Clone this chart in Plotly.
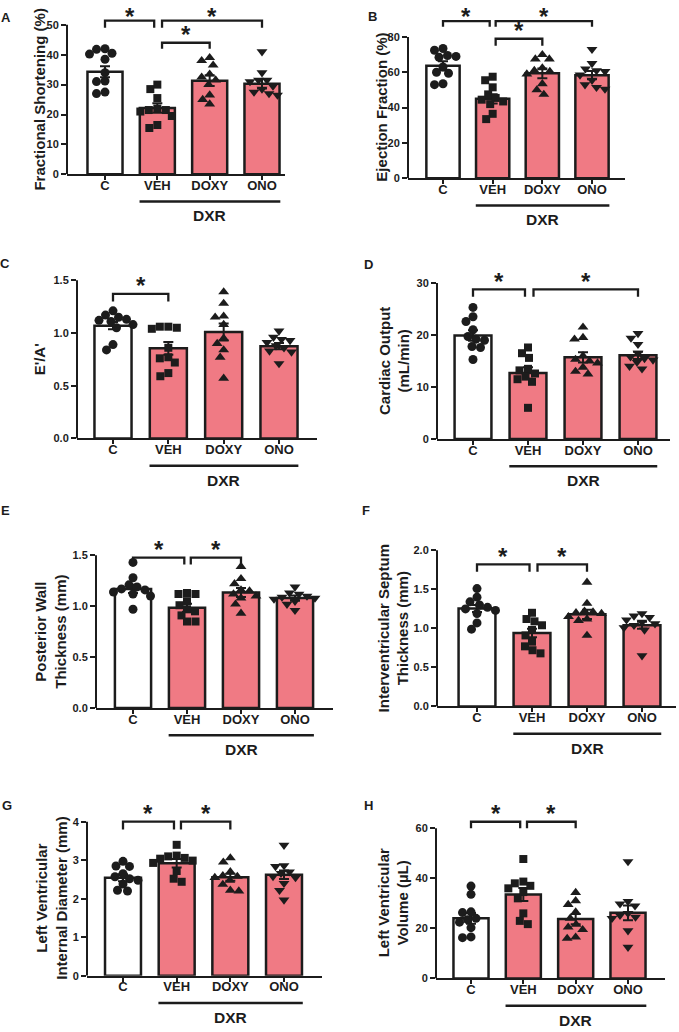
import plotly.graph_objects as go

W, H = 679, 1032
categories = ["C", "VEH", "DOXY", "ONO"]
PINK = "#F07A84"
INK = "#1c1c1c"
FONT = "Liberation Sans, Arial, sans-serif"

# ---------------- data ----------------
# A  Fractional Shortening (%)
fs_C = [42.0, 41.8, 40.5, 40.2, 38.5, 34.0, 31.2, 31.0, 27.5, 27.0]
fs_VEH = [30.0, 28.5, 25.5, 22.0, 21.5, 21.0, 21.5, 19.5, 16.5, 15.5]
fs_DOXY = [39.0, 38.0, 36.5, 33.5, 32.5, 31.5, 30.0, 26.5, 25.0, 23.5]
fs_ONO = [41.0, 34.0, 31.5, 31.5, 31.0, 29.5, 28.5, 27.5, 27.0, 26.5]
fs_mean = [34.3, 22.2, 31.3, 30.3]
fs_sem = [1.8, 1.6, 1.8, 1.6]
fs_ticks = [0, 10, 20, 30, 40, 50]

# B  Ejection Fraction (%)
ef_C = [73.5, 72.5, 69.5, 69.0, 68.5, 63.0, 60.0, 59.5, 53.5, 53.0]
ef_VEH = [57.5, 55.5, 51.5, 47.5, 45.5, 44.5, 43.5, 42.0, 36.5, 33.5]
ef_DOXY = [70.0, 67.5, 67.5, 62.5, 61.0, 60.5, 59.0, 53.5, 50.0, 47.5]
ef_ONO = [73.0, 65.0, 62.0, 61.0, 60.5, 58.5, 55.5, 53.0, 51.5, 50.5]
ef_mean = [63.7, 45.0, 59.4, 58.4]
ef_sem = [2.6, 2.6, 2.7, 2.3]
ef_ticks = [0, 20, 40, 60, 80]

# C  E'/A'
ea_C = [1.21, 1.17, 1.15, 1.13, 1.12, 1.11, 1.08, 1.05, 0.89, 0.84]
ea_VEH = [1.06, 1.06, 1.05, 1.04, 0.86, 0.77, 0.76, 0.72, 0.62, 0.59]
ea_DOXY = [1.39, 1.28, 1.16, 1.15, 1.08, 0.95, 0.90, 0.84, 0.77, 0.57]
ea_ONO = [1.02, 0.96, 0.94, 0.93, 0.91, 0.88, 0.86, 0.83, 0.82, 0.71]
ea_mean = [1.07, 0.855, 1.01, 0.875]
ea_sem = [0.035, 0.06, 0.08, 0.03]
ea_ticks = [0.0, 0.5, 1.0, 1.5]

# D  Cardiac Output (mL/min)
co_C = [25.3, 23.5, 22.6, 21.0, 19.7, 19.2, 19.0, 17.8, 17.6, 15.3]
co_VEH = [17.6, 16.5, 15.6, 13.5, 13.2, 12.6, 12.0, 11.5, 11.0, 6.0]
co_DOXY = [21.5, 19.5, 19.2, 16.0, 15.3, 15.0, 14.6, 13.8, 13.0, 12.5]
co_ONO = [20.3, 19.4, 18.2, 16.5, 15.8, 15.5, 15.2, 14.8, 14.0, 13.5]
co_mean = [19.9, 12.7, 15.7, 16.1]
co_sem = [1.0, 1.1, 1.0, 0.7]
co_ticks = [0, 10, 20, 30]

# E  Posterior Wall Thickness (mm)
pw_C = [1.43, 1.28, 1.21, 1.19, 1.17, 1.16, 1.14, 1.12, 1.10, 0.97]
pw_VEH = [1.13, 1.12, 1.12, 1.05, 1.01, 0.97, 0.95, 0.91, 0.85, 0.85]
pw_DOXY = [1.39, 1.27, 1.22, 1.16, 1.15, 1.12, 1.10, 1.08, 1.02, 0.93]
pw_ONO = [1.19, 1.13, 1.12, 1.10, 1.09, 1.08, 1.07, 1.05, 1.02, 0.96]
pw_mean = [1.17, 0.985, 1.135, 1.08]
pw_sem = [0.04, 0.04, 0.045, 0.025]
pw_ticks = [0.0, 0.5, 1.0, 1.5]

# F  Interventricular Septum Thickness (mm)
ivs_C = [1.51, 1.40, 1.34, 1.30, 1.27, 1.25, 1.23, 1.19, 1.07, 0.99]
ivs_VEH = [1.20, 1.12, 1.09, 1.04, 0.98, 0.91, 0.83, 0.77, 0.72, 0.68]
ivs_DOXY = [1.59, 1.32, 1.22, 1.20, 1.21, 1.19, 1.15, 1.12, 1.10, 0.91]
ivs_ONO = [1.19, 1.16, 1.14, 1.11, 1.08, 1.06, 1.04, 1.01, 0.98, 0.65]
ivs_mean = [1.255, 0.94, 1.18, 1.04]
ivs_sem = [0.045, 0.055, 0.06, 0.045]
ivs_ticks = [0.0, 0.5, 1.0, 1.5, 2.0]

# G  Left Ventricular Internal Diameter (mm)
lvid_C = [2.97, 2.85, 2.84, 2.65, 2.57, 2.52, 2.48, 2.38, 2.22, 2.20]
lvid_VEH = [3.40, 3.12, 3.10, 3.06, 3.04, 2.99, 2.93, 2.72, 2.52, 2.44]
lvid_DOXY = [3.06, 2.95, 2.70, 2.60, 2.58, 2.55, 2.48, 2.37, 2.22, 2.20]
lvid_ONO = [3.39, 2.86, 2.84, 2.70, 2.66, 2.58, 2.55, 2.40, 2.22, 1.97]
lvid_mean = [2.545, 2.92, 2.56, 2.62]
lvid_sem = [0.09, 0.11, 0.09, 0.11]
lvid_ticks = [0, 1, 2, 3, 4]

# H  Left Ventricular Volume (µL)
lvv_C = [36.9, 33.6, 26.6, 26.3, 24.0, 22.5, 23.5, 20.3, 16.6, 16.3]
lvv_VEH = [47.7, 38.7, 38.0, 37.0, 36.0, 34.5, 32.0, 26.0, 23.0, 21.7]
lvv_DOXY = [34.3, 31.0, 29.5, 26.5, 24.0, 21.6, 20.5, 19.5, 16.5, 16.0]
lvv_ONO = [46.7, 30.8, 29.8, 29.0, 26.0, 25.2, 24.5, 24.0, 19.1, 12.5]
lvv_mean = [24.0, 33.5, 23.7, 26.2]
lvv_sem = [2.1, 2.6, 2.0, 2.9]
lvv_ticks = [0, 20, 40, 60]

# significance brackets: (from, to, top, foot)
fs_sig = [(0, 0.94, 51.4, 49.0), (1.09, 3, 51.4, 49.0), (1.09, 2, 44.0, 42.0)]
ef_sig = [(0, 0.94, 89.0, 85.8), (1.06, 3, 89.0, 85.8), (1.06, 2, 79.0, 75.1)]
ea_sig = [(0, 1.0, 1.372, 1.30)]
co_sig = [(0, 0.945, 28.75, 27.35), (1.1, 3, 28.75, 27.35)]
pw_sig = [(0, 0.95, 1.477, 1.41), (1.07, 2, 1.477, 1.41)]
ivs_sig = [(0, 0.955, 1.82, 1.726), (1.1, 2, 1.82, 1.726)]
lvid_sig = [(0, 0.95, 4.0, 3.8), (1.08, 2, 4.0, 3.8)]
lvv_sig = [(0, 0.94, 62.6, 60.0), (1.07, 2, 62.6, 60.0)]

panels = [
    dict(letter="A", title="Fractional Shortening (%)", groups=[fs_C, fs_VEH, fs_DOXY, fs_ONO],
         mean=fs_mean, sem=fs_sem, ticks=fs_ticks, fmt="{:.0f}", sig=fs_sig,
         geo=dict(yax=67, xend=285, c=105, ono=262, p0=172, pM=21, tx=40, lx=6, ly=14)),
    dict(letter="B", title="Ejection Fraction (%)", groups=[ef_C, ef_VEH, ef_DOXY, ef_ONO],
         mean=ef_mean, sem=ef_sem, ticks=ef_ticks, fmt="{:.0f}", sig=ef_sig,
         geo=dict(yax=408, xend=625, c=443, ono=592, p0=176, pM=33.3, tx=382, lx=372, ly=13)),
    dict(letter="C", title="E'/A'", groups=[ea_C, ea_VEH, ea_DOXY, ea_ONO],
         mean=ea_mean, sem=ea_sem, ticks=ea_ticks, fmt="{:.1f}", sig=ea_sig,
         geo=dict(yax=77, xend=317, c=113, ono=279, p0=438.7, pM=279, tx=39, lx=5, ly=262)),
    dict(letter="D", title="Cardiac Output<br>(mL/min)", groups=[co_C, co_VEH, co_DOXY, co_ONO],
         mean=co_mean, sem=co_sem, ticks=co_ticks, fmt="{:.0f}", sig=co_sig,
         geo=dict(yax=437, xend=670, c=473, ono=638, p0=439.3, pM=281.7, tx=394, lx=368, ly=263)),
    dict(letter="E", title="Posterior Wall<br>Thickness (mm)", groups=[pw_C, pw_VEH, pw_DOXY, pw_ONO],
         mean=pw_mean, sem=pw_sem, ticks=pw_ticks, fmt="{:.1f}", sig=pw_sig,
         geo=dict(yax=96, xend=333, c=133, ono=295, p0=711, pM=556.7, tx=51, lx=5, ly=511)),
    dict(letter="F", title="Interventricular Septum<br>Thickness (mm)",
         groups=[ivs_C, ivs_VEH, ivs_DOXY, ivs_ONO],
         mean=ivs_mean, sem=ivs_sem, ticks=ivs_ticks, fmt="{:.1f}", sig=ivs_sig,
         geo=dict(yax=437, xend=676, c=477, ono=642, p0=709.3, pM=551.7, tx=393, lx=366, ly=511)),
    dict(letter="G", title="Left Ventricular<br>Internal Diameter (mm)",
         groups=[lvid_C, lvid_VEH, lvid_DOXY, lvid_ONO],
         mean=lvid_mean, sem=lvid_sem, ticks=lvid_ticks, fmt="{:.0f}", sig=lvid_sig,
         geo=dict(yax=87, xend=322, c=123, ono=284, p0=981.3, pM=825.7, tx=52, lx=7, ly=809)),
    dict(letter="H", title="Left Ventricular<br>Volume (µL)", groups=[lvv_C, lvv_VEH, lvv_DOXY, lvv_ONO],
         mean=lvv_mean, sem=lvv_sem, ticks=lvv_ticks, fmt="{:.0f}", sig=lvv_sig,
         geo=dict(yax=436, xend=665, c=471, ono=628, p0=984, pM=832.3, tx=393, lx=368, ly=809)),
]

symbols = ["circle", "square", "triangle-up", "triangle-down"]
msizes = [9, 8, 9.5, 9.5]
bar_colors = ["white", PINK, PINK, PINK]


def swarm(vals, k, s, d=8.2):
    """simple beeswarm: horizontal offsets (in category units) so markers don't overlap"""
    placed = []
    offs = [0.0] * len(vals)
    order = sorted(range(len(vals)), key=lambda i: -vals[i])
    for i in order:
        y = vals[i] * k
        chosen = 0.0
        found = False
        for step in range(0, 80):
            for sgn in ((1,) if step == 0 else (-1, 1)):
                cand = sgn * step * 0.5
                if all((cand - px) ** 2 + (y - py) ** 2 >= d * d for px, py in placed):
                    chosen = cand
                    found = True
                    break
            if found:
                break
        placed.append((chosen, y))
        offs[i] = chosen / s
    return offs


def yp(p):
    return 1 - p / H


fig = go.Figure()
shapes = []
annotations = []
layout_axes = {}

for n, P in enumerate(panels, start=1):
    g = P["geo"]
    xs = "" if n == 1 else str(n)
    xa, ya = "x" + xs, "y" + xs
    M = P["ticks"][-1]
    k = (g["p0"] - g["pM"]) / M           # px per data unit
    s = (g["ono"] - g["c"]) / 3.0          # px per category
    top = max([b[2] for b in P["sig"]] + [M]) + 2.5 / k
    top_px = g["p0"] - top * k

    layout_axes["xaxis" + xs] = dict(
        domain=[g["yax"] / W, g["xend"] / W],
        range=[-(g["c"] - g["yax"]) / s, 3 + (g["xend"] - g["ono"]) / s],
        anchor=ya, tickvals=[0, 1, 2, 3], ticktext=categories,
        showline=True, linecolor=INK, linewidth=2, ticks="outside", ticklen=4,
        tickwidth=1.8, tickcolor=INK, showgrid=False, zeroline=False,
        ticklabelstandoff=-6,
        tickfont=dict(family=FONT, size=13, color=INK, weight="bold"), fixedrange=True)
    layout_axes["yaxis" + xs] = dict(
        domain=[yp(g["p0"]), yp(top_px)], range=[0, top], anchor=xa,
        tickvals=P["ticks"], ticktext=[P["fmt"].format(t) for t in P["ticks"]],
        showline=False, ticks="outside", ticklen=5, tickwidth=1.8, tickcolor=INK,
        showgrid=False, zeroline=False,
        tickfont=dict(family=FONT, size=11, color=INK, weight="bold"), fixedrange=True)

    fig.add_trace(go.Bar(
        x=[0, 1, 2, 3], y=P["mean"], width=0.67, xaxis=xa, yaxis=ya,
        marker=dict(color=bar_colors, line=dict(color=INK, width=2.5)),
        error_y=dict(type="data", array=P["sem"], color=INK, thickness=2, width=5),
        showlegend=False, hoverinfo="skip"))

    for gi, vals in enumerate(P["groups"]):
        offs = swarm(vals, k, s)
        fig.add_trace(go.Scatter(
            x=[gi + o for o in offs], y=vals, mode="markers", xaxis=xa, yaxis=ya,
            marker=dict(symbol=symbols[gi], size=msizes[gi], color=INK, line=dict(width=0)),
            cliponaxis=False, showlegend=False, hoverinfo="skip"))

    # y axis line (from 0 to the last tick)
    shapes.append(dict(type="line", xref=xa + " domain", yref=ya, x0=0, x1=0, y0=0, y1=M,
                       line=dict(color=INK, width=2)))
    # significance brackets
    for (a, b, t, f) in P["sig"]:
        shapes.append(dict(type="path", xref=xa, yref=ya,
                           path=f"M {a},{f} L {a},{t} L {b},{t} L {b},{f}",
                           line=dict(color=INK, width=2.3)))
        room = g["p0"] - t * k            # distance of the bracket from the page top
        annotations.append(dict(x=(a + b) / 2, y=t, xref=xa, yref=ya, text="*",
                                showarrow=False, yanchor="middle",
                                yshift=min(8, room - 12.5),
                                font=dict(family=FONT, size=24, color=INK, weight="bold")))
    # DXR group line + label
    shapes.append(dict(type="line", xref=xa, yref="paper", x0=0.66, x1=3.35,
                       y0=yp(g["p0"] + 27.5), y1=yp(g["p0"] + 27.5),
                       line=dict(color=INK, width=2.5)))
    annotations.append(dict(x=2, y=yp(g["p0"] + 42), xref=xa, yref="paper", text="DXR",
                            showarrow=False, xanchor="center", yanchor="middle",
                            font=dict(family=FONT, size=15.5, color=INK, weight="bold")))
    # y title
    annotations.append(dict(x=g["tx"] / W, y=yp((g["p0"] + g["pM"]) / 2), xref="paper",
                            yref="paper", text=P["title"], textangle=-90, showarrow=False,
                            xanchor="center", yanchor="middle", align="center",
                            font=dict(family=FONT, size=15, color=INK, weight="bold")))
    # panel letter
    annotations.append(dict(x=g["lx"] / W, y=yp(g["ly"]), xref="paper", yref="paper",
                            text=P["letter"], showarrow=False, xanchor="center",
                            yanchor="middle",
                            font=dict(family=FONT, size=13, color=INK, weight="bold")))

fig.update_layout(
    width=W, height=H, margin=dict(l=0, r=0, t=0, b=0),
    paper_bgcolor="white", plot_bgcolor="white",
    barmode="overlay", shapes=shapes, annotations=annotations, showlegend=False,
    **layout_axes)

fig.write_html("out.html", config={"displayModeBar": False},
               post_script="document.body.style.margin='0';document.body.style.overflow='hidden';")
